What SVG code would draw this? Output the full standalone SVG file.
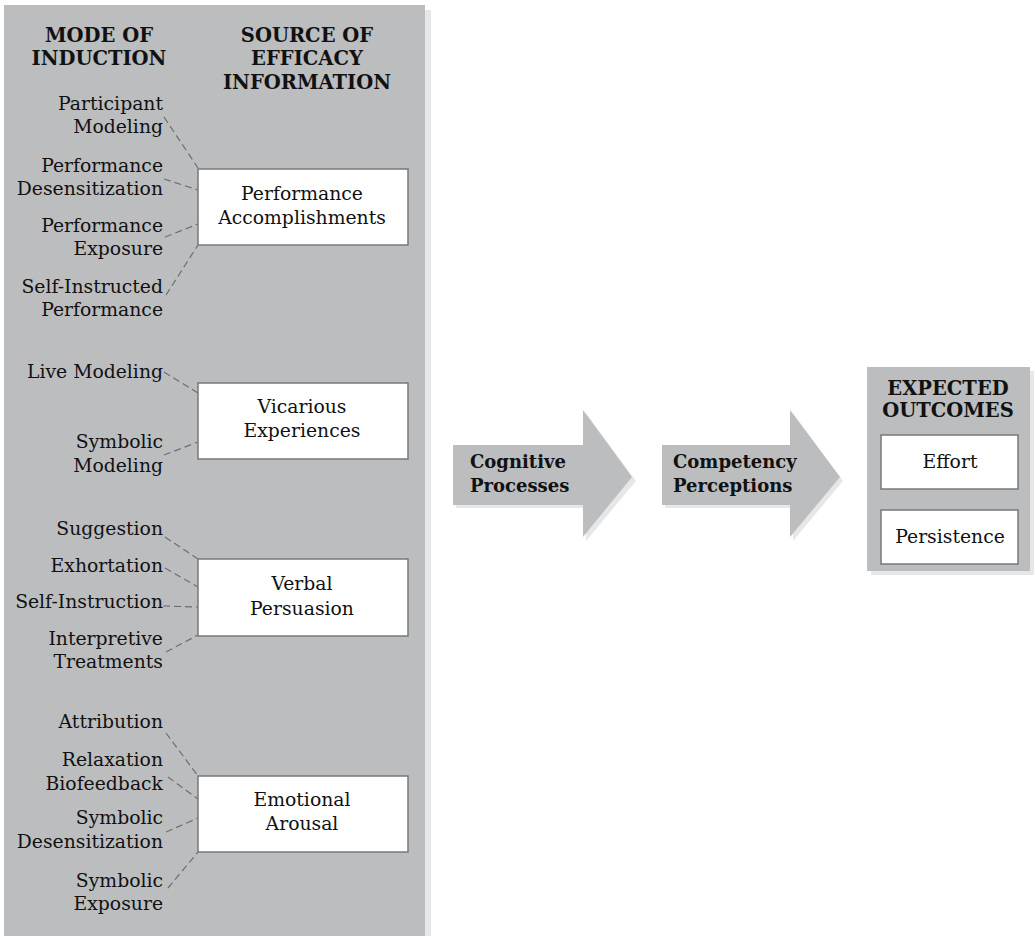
<svg xmlns="http://www.w3.org/2000/svg" width="1035" height="936" viewBox="0 0 1035 936">
<style>
text{font-family:"DejaVu Serif","Liberation Serif",serif;fill:#111;}
.h{font-weight:bold;font-size:19.5px;text-anchor:middle;}
.l{font-size:18.8px;text-anchor:end;}
.b{font-size:18.8px;text-anchor:middle;}
.ah{font-weight:bold;font-size:18px;}
.panel{fill:#bcbdbf;}
.shadow{fill:#e6e7e8;}
.box{fill:#fff;stroke:#77787a;stroke-width:1.5;}
.dash{stroke:#6d6e70;stroke-width:1.2;stroke-dasharray:7 4;fill:none;}
</style>
<rect class="shadow" x="425" y="10" width="6" height="926"/>
<rect class="panel" x="4" y="5" width="421" height="931"/>
<g id="headers">
<text class="h" x="99" y="42">MODE OF</text>
<text class="h" x="99" y="65">INDUCTION</text>
<text class="h" x="307" y="42">SOURCE OF</text>
<text class="h" x="307" y="65">EFFICACY</text>
<text class="h" x="307" y="89">INFORMATION</text>
</g>
<g id="connectors">
<line class="dash" x1="164" y1="117" x2="198" y2="168"/>
<line class="dash" x1="164" y1="179" x2="198" y2="190"/>
<line class="dash" x1="165" y1="237" x2="198" y2="224"/>
<line class="dash" x1="166" y1="295" x2="198" y2="245"/>
<line class="dash" x1="164" y1="372" x2="198" y2="393"/>
<line class="dash" x1="164" y1="455" x2="198" y2="442"/>
<line class="dash" x1="165" y1="537" x2="198" y2="559"/>
<line class="dash" x1="165" y1="568" x2="198" y2="587"/>
<line class="dash" x1="163" y1="606" x2="198" y2="607"/>
<line class="dash" x1="166" y1="652" x2="198" y2="635"/>
<line class="dash" x1="166" y1="733" x2="198" y2="776"/>
<line class="dash" x1="168" y1="777" x2="198" y2="799"/>
<line class="dash" x1="166" y1="832" x2="198" y2="818"/>
<line class="dash" x1="168" y1="888" x2="198" y2="852"/>
</g>
<g id="mode-participant-modeling"><text class="l" x="163" y="110">Participant</text><text class="l" x="163" y="133">Modeling</text></g>
<g id="mode-performance-desensitization"><text class="l" x="163" y="172">Performance</text><text class="l" x="163" y="195">Desensitization</text></g>
<g id="mode-performance-exposure"><text class="l" x="163" y="232">Performance</text><text class="l" x="163" y="255">Exposure</text></g>
<g id="mode-self-instructed-performance"><text class="l" x="163" y="293">Self-Instructed</text><text class="l" x="163" y="316">Performance</text></g>
<g id="mode-live-modeling"><text class="l" x="163" y="378">Live Modeling</text></g>
<g id="mode-symbolic-modeling"><text class="l" x="163" y="448">Symbolic</text><text class="l" x="163" y="472">Modeling</text></g>
<g id="mode-suggestion"><text class="l" x="163" y="535">Suggestion</text></g>
<g id="mode-exhortation"><text class="l" x="163" y="572">Exhortation</text></g>
<g id="mode-self-instruction"><text class="l" x="163" y="608">Self-Instruction</text></g>
<g id="mode-interpretive-treatments"><text class="l" x="163" y="645">Interpretive</text><text class="l" x="163" y="668">Treatments</text></g>
<g id="mode-attribution"><text class="l" x="163" y="728">Attribution</text></g>
<g id="mode-relaxation-biofeedback"><text class="l" x="163" y="766">Relaxation</text><text class="l" x="163" y="790">Biofeedback</text></g>
<g id="mode-symbolic-desensitization"><text class="l" x="163" y="824">Symbolic</text><text class="l" x="163" y="848">Desensitization</text></g>
<g id="mode-symbolic-exposure"><text class="l" x="163" y="887">Symbolic</text><text class="l" x="163" y="910">Exposure</text></g>
<g id="source-performance-accomplishments"><rect class="box" x="198" y="169" width="210" height="76"/><text class="b" x="302" y="200">Performance</text><text class="b" x="302" y="224">Accomplishments</text></g>
<g id="source-vicarious-experiences"><rect class="box" x="198" y="383" width="210" height="76"/><text class="b" x="302" y="413">Vicarious</text><text class="b" x="302" y="437">Experiences</text></g>
<g id="source-verbal-persuasion"><rect class="box" x="198" y="559" width="210" height="77"/><text class="b" x="302" y="590">Verbal</text><text class="b" x="302" y="615">Persuasion</text></g>
<g id="source-emotional-arousal"><rect class="box" x="198" y="776" width="210" height="76"/><text class="b" x="302" y="806">Emotional</text><text class="b" x="302" y="830">Arousal</text></g>
<g id="arrow-cognitive-processes">
<polygon class="shadow" points="456,448 586,448 586,413 636,481 586,541 586,508 456,508"/>
<polygon class="panel" points="453,445 583,445 583,410 632,477 583,537 583,505 453,505"/>
<text class="ah" x="470" y="468">Cognitive</text><text class="ah" x="470" y="492">Processes</text>
</g>
<g id="arrow-competency-perceptions">
<polygon class="shadow" points="665,448 793,448 793,413 843,481 793,541 793,508 665,508"/>
<polygon class="panel" points="662,445 790,445 790,410 840,477 790,537 790,505 662,505"/>
<text class="ah" x="673" y="468">Competency</text><text class="ah" x="673" y="492">Perceptions</text>
</g>
<g id="expected-outcomes">
<rect class="shadow" x="871" y="371" width="163" height="204"/>
<rect class="panel" x="867" y="367" width="163" height="204"/>
<text class="h" x="948" y="395">EXPECTED</text>
<text class="h" x="948" y="417">OUTCOMES</text>
</g>
<g id="outcome-effort"><rect class="box" x="881" y="435" width="137" height="54"/><text class="b" x="950" y="468">Effort</text></g>
<g id="outcome-persistence"><rect class="box" x="881" y="510" width="137" height="54"/><text class="b" x="950" y="543">Persistence</text></g>
</svg>
